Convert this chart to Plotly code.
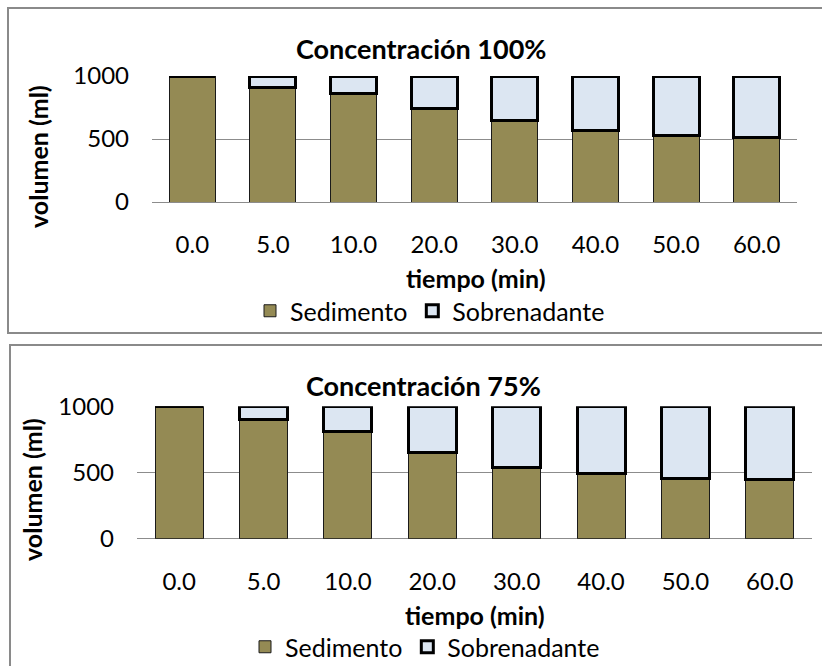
import plotly.graph_objects as go

W, H = 822, 666

tiempo = ["0.0", "5.0", "10.0", "20.0", "30.0", "40.0", "50.0", "60.0"]
sedimento_100 = [1000, 910, 860, 740, 650, 570, 530, 515]
sobrenadante_100 = [0, 90, 140, 260, 350, 430, 470, 485]
sedimento_75 = [1000, 900, 810, 650, 540, 490, 455, 445]
sobrenadante_75 = [0, 100, 190, 350, 460, 510, 545, 555]
y_ticks = [0, 500, 1000]

FONT = "Lato"
OLIVE = "#948A54"
LIGHT = "#DCE6F2"
GRID = "#8C8C8C"

def px(x):
    return x / W

def py(y):
    return 1 - y / H

fig = go.Figure()

for xa, ya, lg, sed, sob in [("x", "y", "legend", sedimento_100, sobrenadante_100),
                             ("x2", "y2", "legend2", sedimento_75, sobrenadante_75)]:
    fig.add_trace(go.Bar(x=tiempo, y=sed, name="Sedimento", xaxis=xa, yaxis=ya,
                         legend=lg, cliponaxis=False,
                         marker=dict(color=OLIVE, line=dict(color="#1a1a1a", width=1))))
    fig.add_trace(go.Bar(x=tiempo, y=sob, name="Sobrenadante", xaxis=xa, yaxis=ya,
                         legend=lg, cliponaxis=False,
                         marker=dict(color=LIGHT, line=dict(color="black", width=3))))

tickfont = dict(family=FONT, size=24, color="black")
xcommon = dict(type="category", showgrid=False, showline=False, ticks="",
               tickfont=tickfont, ticklabelstandoff=26, fixedrange=True,
               automargin=False)
ycommon = dict(range=[0, 1000], tickvals=y_ticks, showgrid=True, gridcolor=GRID,
               gridwidth=1, zeroline=True, zerolinecolor=GRID, zerolinewidth=1,
               showline=False, ticks="", tickfont=tickfont, ticklabelstandoff=22,
               fixedrange=True, automargin=False)

legend_common = dict(orientation="h", xanchor="center", yanchor="middle",
                     xref="container", yref="container",
                     font=dict(family=FONT, size=25, color="black"),
                     bgcolor="rgba(0,0,0,0)", itemclick=False, itemdoubleclick=False,
                     traceorder="normal")

fig.update_layout(
    width=W, height=H,
    margin=dict(l=0, r=0, t=0, b=0, autoexpand=False),
    paper_bgcolor="white", plot_bgcolor="white",
    barmode="stack", bargap=0.43,
    xaxis=dict(domain=[px(152), px(797)], anchor="y", **xcommon),
    yaxis=dict(domain=[py(202), py(76)], anchor="x", **ycommon),
    xaxis2=dict(domain=[px(137), px(812)], anchor="y2", **xcommon),
    yaxis2=dict(domain=[py(538.7), py(406.3)], anchor="x2", **ycommon),
    legend=dict(x=px(430), y=py(311), **legend_common),
    legend2=dict(x=px(425), y=py(647), **legend_common),
    shapes=[
        dict(type="rect", xref="paper", yref="paper", x0=px(8), x1=px(830),
             y0=py(333), y1=py(8), line=dict(color="#8A8A8A", width=2), layer="below"),
        dict(type="rect", xref="paper", yref="paper", x0=px(10), x1=px(830),
             y0=py(680), y1=py(345), line=dict(color="#8A8A8A", width=2), layer="below"),
    ],
)

annots = [
    ("<b>Concentración 100%</b>", 421, 48, 0, 27),
    ("<b>Concentración 75%</b>", 423, 385, 0, 27),
    ("<b>tiempo (min)</b>", 476, 278, 0, 25),
    ("<b>tiempo (min)</b>", 475, 615, 0, 25),
    ("<b>volumen (ml)</b>", 38, 157, -90, 25),
    ("<b>volumen (ml)</b>", 32, 490, -90, 25),
]
for text, ax, ay, ang, fs in annots:
    fig.add_annotation(text=text, x=px(ax), y=py(ay), xref="paper", yref="paper",
                       showarrow=False, xanchor="center", yanchor="middle",
                       textangle=ang, font=dict(family=FONT, size=fs, color="black"))

fig.write_html("out.html")
